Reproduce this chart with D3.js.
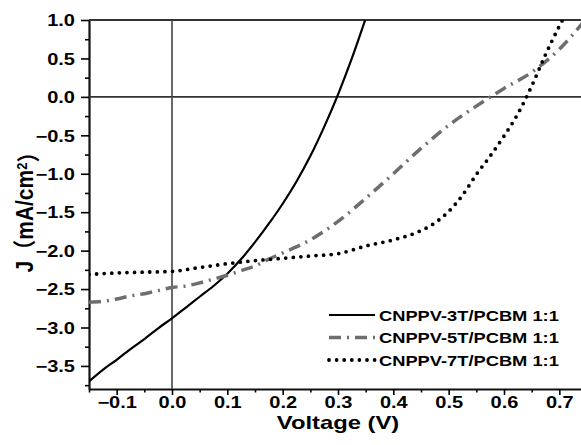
<!DOCTYPE html>
<html>
<head>
<meta charset="utf-8">
<script src="https://cdn.jsdelivr.net/npm/d3@7"></script>
<style>
  body { margin: 0; background: #fff; }
  svg { display: block; }
  text { font-family: "Liberation Sans", Arial, "Noto Sans CJK SC", sans-serif; font-weight: bold; fill: #000; }
</style>
</head>
<body>
<div id="chart"></div>
<script>
// J-V data
var v3T = [-0.15,-0.125,-0.1,-0.075,-0.05,-0.025,0,0.025,0.05,0.075,0.1,0.125,0.15,0.175,0.2,0.225,0.25,0.275,0.3,0.325,0.35];
var j3T = [-3.70,-3.55,-3.42,-3.28,-3.15,-3.01,-2.88,-2.74,-2.60,-2.46,-2.30,-2.11,-1.89,-1.65,-1.39,-1.10,-0.77,-0.39,0.03,0.50,1.02];

var v5T = [-0.15,-0.125,-0.1,-0.075,-0.05,-0.025,0,0.025,0.05,0.075,0.1,0.125,0.15,0.175,0.2,0.25,0.3,0.35,0.4,0.45,0.5,0.55,0.6,0.65,0.7,0.75];
var j5T = [-2.67,-2.66,-2.63,-2.59,-2.56,-2.52,-2.48,-2.46,-2.42,-2.37,-2.32,-2.26,-2.20,-2.11,-2.03,-1.86,-1.62,-1.32,-1.00,-0.67,-0.37,-0.12,0.11,0.32,0.62,1.03];

var v7T = [-0.15,-0.1,-0.05,0,0.05,0.1,0.15,0.2,0.25,0.3,0.35,0.4,0.45,0.475,0.5,0.525,0.55,0.575,0.6,0.625,0.65,0.675,0.7,0.725];
var j7T = [-2.31,-2.29,-2.28,-2.27,-2.22,-2.17,-2.13,-2.10,-2.07,-2.04,-1.94,-1.86,-1.74,-1.64,-1.49,-1.28,-1.01,-0.77,-0.51,-0.22,0.14,0.55,0.92,1.25];

var seriesNames = ["CNPPV-3T/PCBM 1:1", "CNPPV-5T/PCBM 1:1", "CNPPV-7T/PCBM 1:1"];
var xTicks = [-0.1,0,0.1,0.2,0.3,0.4,0.5,0.6,0.7];
var yTicks = [-3.5,-3.0,-2.5,-2.0,-1.5,-1.0,-0.5,0.0,0.5,1.0];

var W = 581, H = 445;
var sx = 1.25; // text in the picture is a bit wide

var x = d3.scaleLinear().domain([-0.15, 0.75]).range([89, 587]);
var y = d3.scaleLinear().domain([-3.8, 1.0]).range([389, 20]);

var svg = d3.select("#chart").append("svg")
  .attr("width", W)
  .attr("height", H);

svg.append("clipPath").attr("id", "plot")
  .append("rect")
  .attr("x", x(-0.15)).attr("y", y(1.0))
  .attr("width", x(0.75) - x(-0.15)).attr("height", y(-3.8) - y(1.0));

// stretch tick labels horizontally
function widen(sel) {
  sel.selectAll(".tick text").each(function() {
    var t = d3.select(this);
    var tx = +t.attr("x") || 0, ty = +t.attr("y") || 0;
    t.attr("x", 0).attr("y", 0)
     .attr("transform", "translate(" + tx + "," + ty + ") scale(" + sx + ",1)");
  });
}

// minor ticks
svg.append("g")
  .attr("transform", "translate(" + x(-0.15) + ",0)")
  .call(d3.axisLeft(y).tickValues(d3.range(-3.75, 1, 0.5)).tickSize(4).tickFormat("").tickSizeOuter(0))
  .call(function(g) { g.select(".domain").remove(); })
  .selectAll("line").attr("stroke-width", 1.6);

svg.append("g")
  .attr("transform", "translate(0," + y(-3.8) + ")")
  .call(d3.axisBottom(x).tickValues(d3.range(-0.15, 0.76, 0.1)).tickSize(3.5).tickFormat("").tickSizeOuter(0))
  .call(function(g) { g.select(".domain").remove(); })
  .selectAll("line").attr("stroke-width", 1.6);

// major ticks + labels
var yAxis = svg.append("g")
  .attr("transform", "translate(" + x(-0.15) + ",0)")
  .call(d3.axisLeft(y).tickValues(yTicks).tickSize(8).tickPadding(6).tickFormat(d3.format(".1f")).tickSizeOuter(0));
yAxis.select(".domain").attr("stroke-width", 2.2).attr("stroke", "#111");
yAxis.selectAll("line").attr("stroke-width", 1.6);
yAxis.selectAll("text").style("font-size", "16px").attr("dy", "0.36em");
widen(yAxis);

var xAxis = svg.append("g")
  .attr("transform", "translate(0," + y(-3.8) + ")")
  .call(d3.axisBottom(x).tickValues(xTicks).tickSize(6).tickPadding(2).tickFormat(d3.format(".1f")).tickSizeOuter(0));
xAxis.select(".domain").attr("stroke-width", 2.2).attr("stroke", "#111");
xAxis.selectAll("line").attr("stroke-width", 1.6);
xAxis.selectAll("text").style("font-size", "16px");
widen(xAxis);

// frame top and zero lines
svg.append("line")
  .attr("x1", x(-0.15)).attr("x2", x(0.75))
  .attr("y1", y(1.0)).attr("y2", y(1.0))
  .attr("stroke", "#333").attr("stroke-width", 2);
svg.append("line")
  .attr("x1", x(-0.15)).attr("x2", x(0.75))
  .attr("y1", y(0)).attr("y2", y(0))
  .attr("stroke", "#333").attr("stroke-width", 1.6);
svg.append("line")
  .attr("x1", x(0)).attr("x2", x(0))
  .attr("y1", y(1.0)).attr("y2", y(-3.8))
  .attr("stroke", "#444").attr("stroke-width", 1.6);

// curves
var styles = [
  { stroke: "#000", width: 2.2, dash: null, cap: "butt" },
  { stroke: "#6e6e6e", width: 3.5, dash: "12,6,2,6", cap: "butt" },
  { stroke: "#000", width: 3.8, dash: "0,7.6", cap: "round" }
];
var curves = [
  d3.zip(v3T, j3T),
  d3.zip(v5T, j5T),
  d3.zip(v7T, j7T)
];

var line = d3.line()
  .x(function(d) { return x(d[0]); })
  .y(function(d) { return y(d[1]); })
  .curve(d3.curveMonotoneX);

var plot = svg.append("g").attr("clip-path", "url(#plot)");
curves.forEach(function(c, i) {
  plot.append("path")
    .attr("d", line(c))
    .attr("fill", "none")
    .attr("stroke", styles[i].stroke)
    .attr("stroke-width", styles[i].width)
    .attr("stroke-dasharray", styles[i].dash)
    .attr("stroke-linecap", styles[i].cap);
});

// legend
var legY = [315, 337.5, 360];
seriesNames.forEach(function(name, i) {
  svg.append("line")
    .attr("x1", 329).attr("x2", 375)
    .attr("y1", legY[i]).attr("y2", legY[i])
    .attr("stroke", styles[i].stroke)
    .attr("stroke-width", styles[i].width)
    .attr("stroke-dasharray", styles[i].dash)
    .attr("stroke-linecap", styles[i].cap);
  svg.append("text")
    .attr("transform", "translate(379," + (legY[i] + 5.5) + ") scale(1.22,1)")
    .style("font-size", "15px")
    .text(name);
});

// axis titles
svg.append("text")
  .attr("transform", "translate(338,429) scale(1.36,1)")
  .attr("text-anchor", "middle")
  .style("font-size", "17.5px")
  .text("Voltage (V)");

var yl = svg.append("text")
  .attr("transform", "translate(33,207) rotate(-90) scale(1,1.1)")
  .attr("text-anchor", "middle")
  .style("font-size", "21px");
yl.append("tspan").text("J（mA/cm");
yl.append("tspan").attr("dy", "-0.45em").style("font-size", "13px").text("2");
yl.append("tspan").attr("dy", "0.45em").text("）");
</script>
</body>
</html>
